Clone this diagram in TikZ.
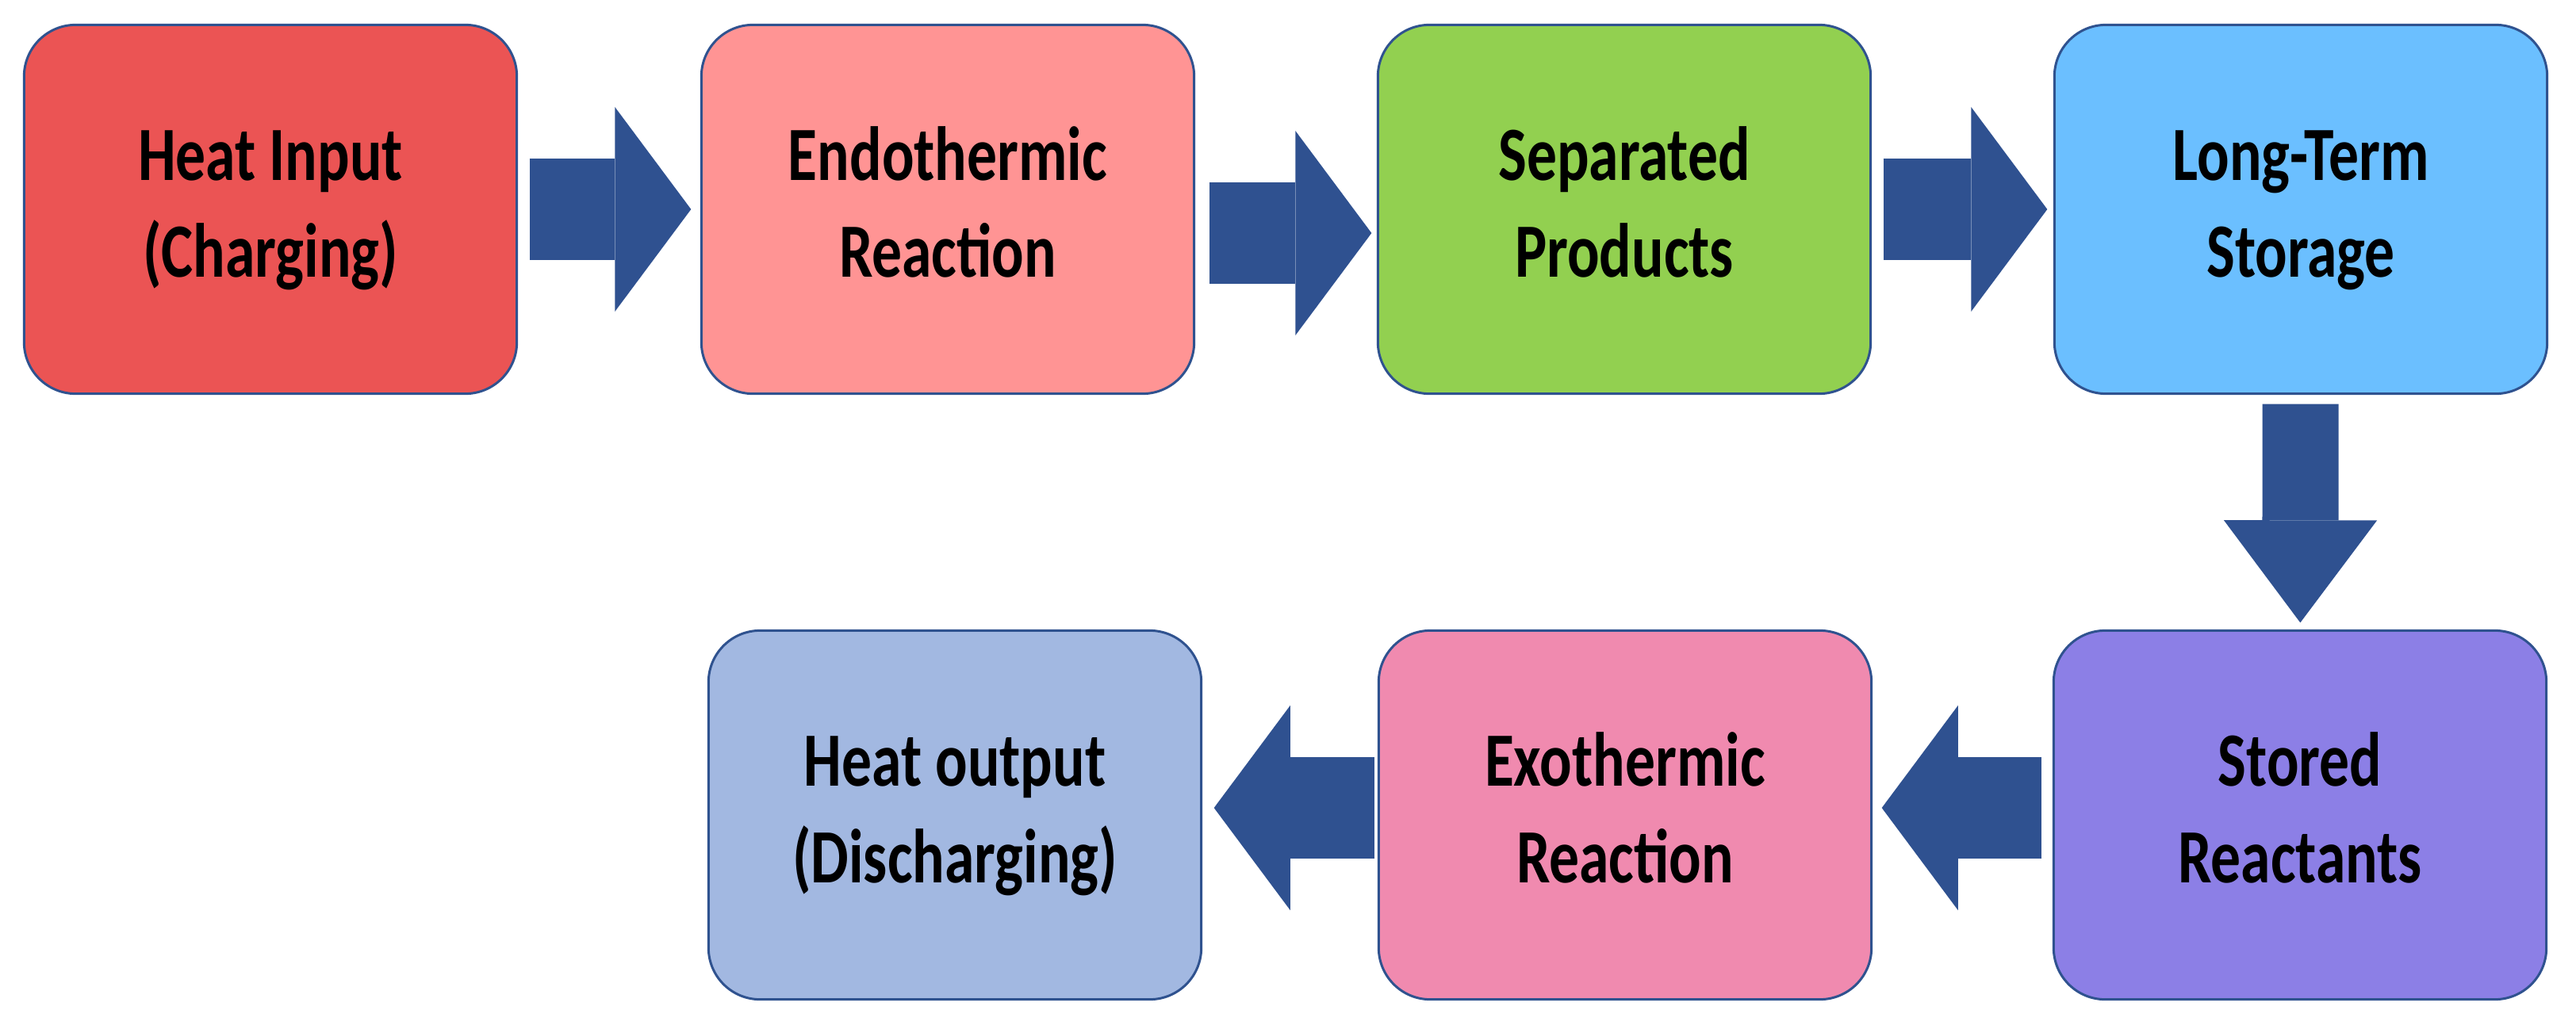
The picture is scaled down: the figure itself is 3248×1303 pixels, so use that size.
\documentclass[tikz,border=0pt]{standalone}
\usepackage{fontspec}
\setmainfont{Carlito}
\usepackage{graphicx}
\usetikzlibrary{arrows.meta,calc}

\definecolor{edgeblue}{HTML}{2F528F}
\definecolor{flowblue}{HTML}{2F5190}
\definecolor{heatred}{HTML}{EB5454}
\definecolor{endopink}{HTML}{FF9494}
\definecolor{sepgreen}{HTML}{92D050}
\definecolor{storeblue}{HTML}{6BBFFF}
\definecolor{reactpurple}{HTML}{8C7FE6}
\definecolor{exopink}{HTML}{F08AAF}
\definecolor{outblue}{HTML}{A2B8E1}

\newcommand{\twoline}[2]{\scalebox{1}[1.28]{\begin{tabular}{@{}c@{}}#1\\#2\end{tabular}}}

\tikzset{
  stage/.style={draw=edgeblue, line width=0.85pt, rounded corners=0.65cm,
    minimum width=6.21cm, minimum height=4.65cm, inner sep=0pt,
    font=\fontsize{21.5}{27}\selectfont\bfseries},
  flow/.style={flowblue, line width=1.28cm,
    -{Triangle[length=0.96cm,width=2.58cm,line width=0pt]}},
  drop/.style={flowblue, line width=0.96cm,
    -{Triangle[length=1.29cm,width=1.93cm,line width=0pt]}}
}

\begin{document}
\begin{tikzpicture}[x=0.01cm,y=-0.01cm]
\useasboundingbox (0,0) rectangle (3248,1303);

% charging row
\node[stage,fill=heatred] (hin) at (341,264) {\twoline{Heat Input}{(Charging)}};
\node[stage,fill=endopink] (endo) at (1195,264) {\twoline{Endothermic}{Reaction}};
\node[stage,fill=sepgreen] (sep) at (2048,264) {\twoline{Separated}{Products}};
\node[stage,fill=storeblue] (store) at (2901,264) {\twoline{Long-Term}{Storage}};

% discharging row
\node[stage,fill=reactpurple] (react) at (2900,1028) {\twoline{Stored}{Reactants}};
\node[stage,fill=exopink] (exo) at (2049,1028) {\twoline{Exothermic}{Reaction}};
\node[stage,fill=outblue] (hout) at (1204,1028) {\twoline{Heat output}{(Discharging)}};

\draw[flow,shorten <=0.145cm,shorten >=0.115cm] (hin) -- (endo);
\draw[flow,shorten <=0.175cm,shorten >=0.065cm] ($(endo.east)+(0,30)$) -- ($(sep.west)+(0,30)$);
\draw[flow,shorten <=0.145cm,shorten >=0.075cm] (sep) -- (store);
\draw[drop,shorten <=0.115cm,shorten >=0.085cm] (store) -- (react);
\draw[flow,shorten <=0.135cm,shorten >=0.115cm] ($(react.west)+(0,-9)$) -- ($(exo.east)+(0,-9)$);
\draw[flow,shorten <=0.035cm,shorten >=0.145cm] ($(exo.west)+(0,-9)$) -- ($(hout.east)+(0,-9)$);
\end{tikzpicture}
\end{document}
